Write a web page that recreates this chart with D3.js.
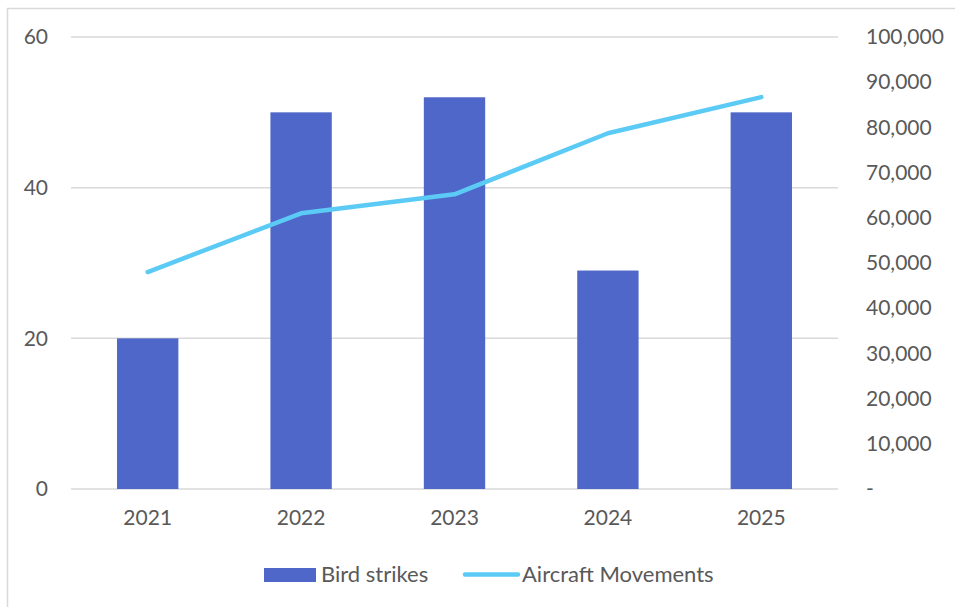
<!DOCTYPE html>
<html>
<head>
<meta charset="utf-8">
<script src="https://cdn.jsdelivr.net/npm/d3@7"></script>
<style>
  html, body { margin: 0; padding: 0; background: #fff; }
  svg { display: block; font-family: Lato, "Open Sans", sans-serif; }
</style>
</head>
<body>
<svg id="chart" width="955" height="607"></svg>
<script>
// Yearly bird strikes (bars, left axis) and aircraft movements (line, right axis)
const years = ["2021", "2022", "2023", "2024", "2025"];
const birdStrikes = [20, 50, 52, 29, 50];
const aircraftMovements = [48000, 61000, 65200, 78700, 86700];
const leftTicks = [0, 20, 40, 60];
const rightTicks = [0, 10000, 20000, 30000, 40000, 50000, 60000, 70000, 80000, 90000, 100000];

const barColor = "#4F67C8";
const lineColor = "#5BCBF5";
const textColor = "#595959";
const gridColor = "#D9D9D9";
const fontFamily = "Lato, 'Open Sans', sans-serif";

const svg = d3.select("#chart");
const plot = { left: 71, right: 838, top: 37, bottom: 489 };

// chart frame
svg.append("rect")
  .attr("x", 7.5).attr("y", 8.5)
  .attr("width", 960).attr("height", 620)
  .attr("fill", "none").attr("stroke", gridColor).attr("stroke-width", 1.5);

const x = d3.scaleBand().domain(years).range([plot.left, plot.right]).paddingInner(0.6).paddingOuter(0.3);
const xc = d3.scalePoint().domain(years).range([plot.left, plot.right]).padding(0.5);
const yL = d3.scaleLinear().domain([0, 60]).range([plot.bottom, plot.top]);
const yR = d3.scaleLinear().domain([0, 100000]).range([plot.bottom, plot.top]);

// horizontal gridlines on the left axis ticks
svg.append("g").selectAll("line").data(leftTicks).join("line")
  .attr("x1", plot.left).attr("x2", plot.right)
  .attr("y1", d => yL(d)).attr("y2", d => yL(d))
  .attr("stroke", gridColor).attr("stroke-width", 1.5);

const styleTicks = g => g.selectAll("text")
  .attr("fill", textColor).style("font-size", "21px").style("font-family", fontFamily);

// left axis labels
const leftAxis = d3.axisLeft(yL).tickValues(leftTicks).tickSize(0).tickPadding(23);
svg.append("g").attr("transform", `translate(${plot.left},0)`).call(leftAxis)
  .call(g => g.select(".domain").remove())
  .call(styleTicks);

// right axis labels
const fmt = d3.format(",");
const rightAxis = d3.axisRight(yR).tickValues(rightTicks).tickSize(0).tickPadding(28)
  .tickFormat(d => d === 0 ? "-" : fmt(d));
svg.append("g").attr("transform", `translate(${plot.right},0)`).call(rightAxis)
  .call(g => g.select(".domain").remove())
  .call(styleTicks);

// bottom category labels
const bottomAxis = d3.axisBottom(x).tickSize(0).tickPadding(21);
svg.append("g").attr("transform", `translate(0,${plot.bottom})`).call(bottomAxis)
  .call(g => g.select(".domain").remove())
  .call(styleTicks);

// bars
svg.append("g").selectAll("rect").data(birdStrikes).join("rect")
  .attr("x", (d, i) => x(years[i]))
  .attr("width", x.bandwidth())
  .attr("y", d => yL(d))
  .attr("height", d => yL(0) - yL(d))
  .attr("fill", barColor);

// movements line
const line = d3.line().x((d, i) => xc(years[i])).y(d => yR(d));
svg.append("path").datum(aircraftMovements)
  .attr("d", line)
  .attr("fill", "none").attr("stroke", lineColor)
  .attr("stroke-width", 4.5).attr("stroke-linecap", "round").attr("stroke-linejoin", "round");

// legend
const legend = svg.append("g").style("font-size", "22px").style("font-family", fontFamily).attr("fill", textColor);
legend.append("rect").attr("x", 264).attr("y", 568).attr("width", 52).attr("height", 14).attr("fill", barColor);
legend.append("text").attr("x", 321).attr("y", 581.5).text("Bird strikes");
legend.append("line").attr("x1", 465).attr("x2", 518).attr("y1", 574.5).attr("y2", 574.5)
  .attr("stroke", lineColor).attr("stroke-width", 4.5).attr("stroke-linecap", "round");
legend.append("text").attr("x", 522).attr("y", 581.5).text("Aircraft Movements");
</script>
</body>
</html>
